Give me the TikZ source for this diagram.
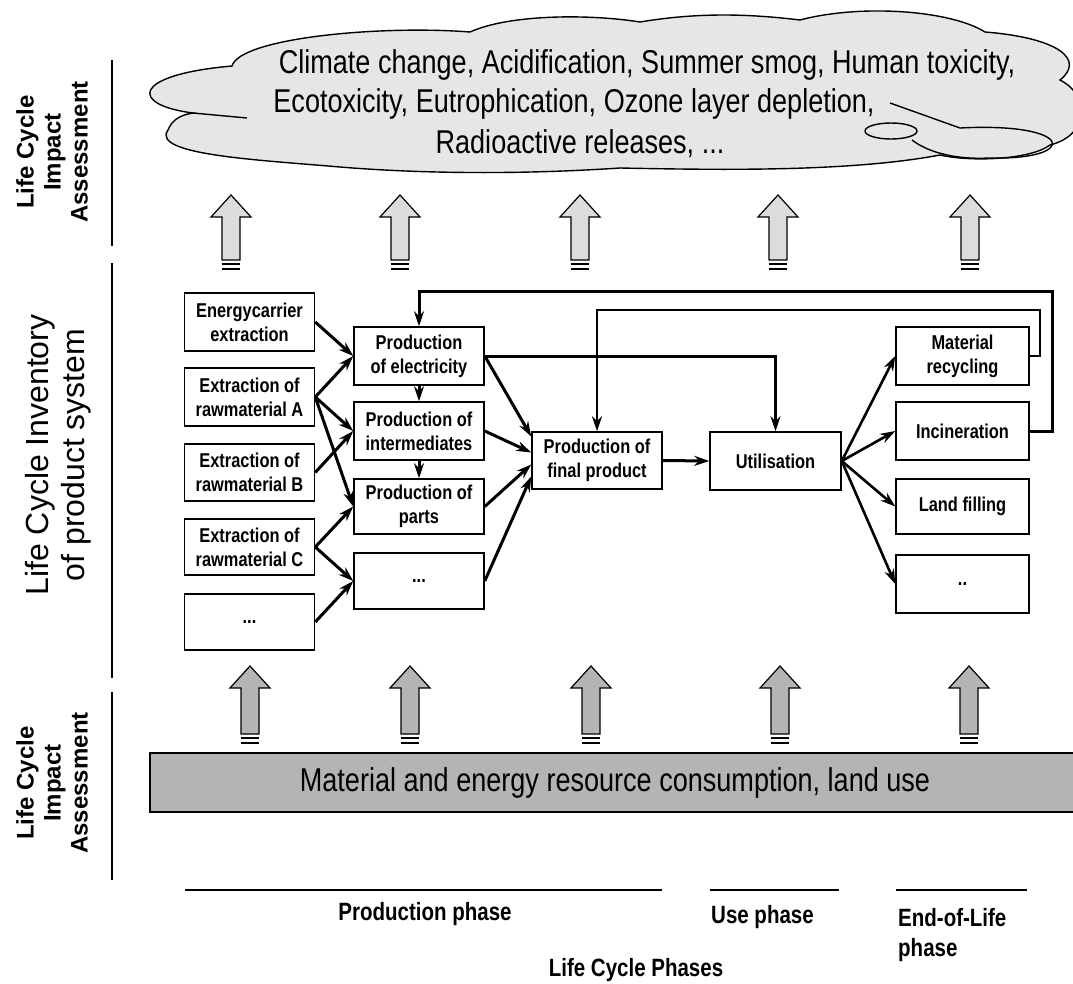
\documentclass[tikz,border=0pt]{standalone}
\usepackage{fontspec}
\setmainfont{Liberation Sans}
\newfontfamily\narrowfont{Liberation Sans}[FakeStretch=0.82]
\usetikzlibrary{arrows.meta}
\definecolor{cloudgray}{HTML}{E6E6E6}
\definecolor{bandgray}{HTML}{B4B4B4}
\definecolor{arrowlight}{HTML}{DCDCDC}

\begin{document}
\begin{tikzpicture}[x=1pt,y=-1pt,>={Stealth[length=15pt,width=10pt]},
  box/.style={draw,line width=1.5pt,fill=white,minimum width=130pt,minimum height=56pt,
              inner sep=1pt,align=center,font=\narrowfont\bfseries\fontsize{20}{24}\selectfont},
  flow/.style={->,line width=3pt},
  rule/.style={line width=1.6pt},
  side/.style={rotate=90,align=center,font=\bfseries\fontsize{24}{27}\selectfont},
  phase/.style={font=\narrowfont\bfseries\fontsize{25}{30}\selectfont,align=left},
  impact/.style={font=\narrowfont\fontsize{33}{40}\selectfont,inner sep=0pt},
  blk/.style={line width=1.2pt}]
\useasboundingbox (0,0) rectangle (1073,983);

% ===== impact cloud =====
\filldraw[fill=cloudgray,line width=1.4pt] (193,113) .. controls (130,105) and (130,75) .. (232,66)
  .. controls (240,38) and (380,25) .. (470,32) .. controls (510,14) and (590,14) .. (640,22)
  .. controls (700,12) and (750,14) .. (800,20) .. controls (860,4) and (950,10) .. (985,32)
  .. controls (1060,38) and (1085,60) .. (1060,80) .. controls (1090,95) and (1090,135) .. (1050,145)
  .. controls (1030,160) and (970,162) .. (940,155) .. controls (850,172) and (720,170) .. (620,168)
  .. controls (500,176) and (400,172) .. (340,167) .. controls (260,160) and (150,155) .. (168,130)
  .. controls (172,120) and (180,115) .. (193,113) -- cycle;
\draw[line width=1.4pt] (193,113) -- (247,118);
\draw[line width=1.4pt] (890,103) -- (960,128) .. controls (1075,122) and (1080,160) .. (990,158)
  .. controls (950,160) and (925,150) .. (912,140);
\draw[line width=1.4pt] (891,131) ellipse [x radius=26pt,y radius=8pt];
\node[impact] (imp1) at (647,65) {Climate change, Acidification, Summer smog, Human toxicity,};
\node[impact] (imp2) at (574,104) {Ecotoxicity, Eutrophication, Ozone layer depletion,};
\node[impact] (imp3) at (580,144) {Radioactive releases, ...};

% ===== side labels =====
\node[side] (lciaTop) at (52,152) {Life Cycle\\Impact\\Assessment};
\node[side,font=\fontsize{32}{36}\selectfont] (lci) at (58,455) {Life Cycle Inventory\\of product system};
\node[side] (lciaBot) at (52,783) {Life Cycle\\Impact\\Assessment};
\draw[rule] (112,60) -- (112,246);
\draw[rule] (112,263) -- (112,678);
\draw[rule] (112,692) -- (112,880);

% ===== block arrows =====
\foreach \ax in {231,400,580,778,970}{
  \filldraw[blk,fill=arrowlight] (\ax,195) -- (\ax+20,217) -- (\ax+9,217) -- (\ax+9,260)
    -- (\ax-9,260) -- (\ax-9,217) -- (\ax-20,217) -- cycle;
  \draw[blk] (\ax-9,264) -- (\ax+9,264) (\ax-9,269) -- (\ax+9,269);
}
\foreach \ax in {250,410,591,780,969}{
  \filldraw[blk,fill=bandgray] (\ax,666) -- (\ax+20,688) -- (\ax+9,688) -- (\ax+9,734)
    -- (\ax-9,734) -- (\ax-9,688) -- (\ax-20,688) -- cycle;
  \draw[blk] (\ax-9,738) -- (\ax+9,738) (\ax-9,743) -- (\ax+9,743);
}

% ===== resource band =====
\node[draw,line width=1.6pt,fill=bandgray,minimum width=930pt,minimum height=59pt,
      font=\narrowfont\fontsize{33}{40}\selectfont] (res) at (615,782.5)
      {Material and energy resource consumption, land use};

% ===== process boxes =====
\node[box,minimum height=58pt] (energy) at (249.5,322) {Energycarrier\\extraction};
\node[box,minimum height=58pt] (rawA) at (249.5,397) {Extraction of\\rawmaterial A};
\node[box,minimum height=57pt] (rawB) at (249.5,472.5) {Extraction of\\rawmaterial B};
\node[box] (rawC) at (249.5,547) {Extraction of\\rawmaterial C};
\node[box] (dotsL) at (249.5,622) {...};

\node[box,minimum height=58pt] (elec) at (419,356) {Production\\of electricity};
\node[box,minimum height=58pt] (inter) at (419,431) {Production of\\intermediates};
\node[box,minimum height=55pt] (parts) at (419,506.5) {Production of\\parts};
\node[box] (dotsM) at (419,581) {...};

\node[box,minimum height=57pt] (final) at (597,460.5) {Production of\\final product};
\node[box,minimum width=131pt,minimum height=58pt] (util) at (775.5,461) {Utilisation};

\node[box,minimum width=133pt,minimum height=58pt] (recyc) at (962.5,356) {Material\\recycling};
\node[box,minimum width=133pt,minimum height=58pt] (incin) at (962.5,431) {Incineration};
\node[box,minimum width=133pt,minimum height=55pt] (landf) at (962.5,506.5) {Land filling};
\node[box,minimum width=133pt,minimum height=58pt] (dotsE) at (962.5,584) {..};

% ===== flows =====
\draw[flow] (energy.east) -- (elec.west);
\draw[flow] (rawA.east) -- (elec.west);
\draw[flow] (rawA.east) -- (inter.west);
\draw[flow] (rawA.east) -- (parts.west);
\draw[flow] (rawB.east) -- (inter.west);
\draw[flow] (rawC.east) -- (parts.west);
\draw[flow] (rawC.east) -- (dotsM.west);
\draw[flow] (dotsL.east) -- (dotsM.west);
\draw[flow] (elec.south) -- (inter.north);
\draw[flow] (inter.south) -- (parts.north);

\draw[flow] (elec.east) -- ([yshift=24pt]final.west);
\draw[flow] (inter.east) -- ([yshift=8pt]final.west);
\draw[flow] (parts.east) -- ([yshift=-4pt]final.west);
\draw[flow] (dotsM.east) -- ([yshift=-16pt]final.west);
\draw[flow] (final.east) -- (util.west);
\draw[flow] (elec.east) -| (util.north);
\foreach \t in {recyc,incin,landf,dotsE}
  \draw[flow,line width=2.6pt] (util.east) -- (\t.west);

% ===== recycling loops =====
\coordinate (fbhigh) at (0,291);
\coordinate (fblow) at (0,310);
\draw[flow] (incin.east) -- ++(23,0) |- (elec.north |- fbhigh) -- (elec.north);
\draw[flow,line width=2pt] (recyc.east) -- ++(10,0) |- (final.north |- fblow) -- (final.north);

% ===== life cycle phases =====
\draw[rule] (185,890) -- (662,890);
\draw[rule] (710,890) -- (839,890);
\draw[rule] (896,890) -- (1027,890);
\node[phase] (prodph) at (425,914) {Production phase};
\node[phase,anchor=west,inner sep=0pt] (useph) at (711,917) {Use phase};
\node[phase,anchor=north west,inner sep=0pt] (eolph) at (898,908) {End-of-Life\\phase};
\node[phase] (lcph) at (636,970) {Life Cycle Phases};
\end{tikzpicture}
\end{document}
